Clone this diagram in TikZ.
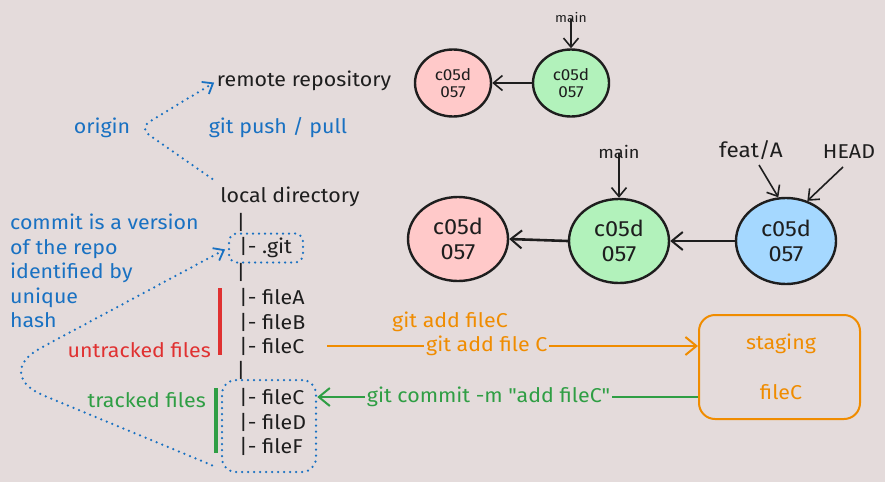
\documentclass[tikz,border=0pt]{standalone}
\usepackage{fontspec}
\setmainfont{Fira Sans}[FakeStretch=1.07, Ligatures=TeXOff]
\usetikzlibrary{arrows.meta,shapes.geometric,calc}
\definecolor{bg}{RGB}{228,219,219}
\definecolor{ink}{HTML}{1E1E1E}
\definecolor{eblue}{HTML}{1971C2}
\definecolor{ered}{HTML}{E03131}
\definecolor{egreen}{HTML}{2F9E44}
\definecolor{eorange}{HTML}{F08C00}
\definecolor{fpink}{HTML}{FFC9C9}
\definecolor{fgreen}{HTML}{B2F2BB}
\definecolor{fblue}{HTML}{A5D8FF}
\begin{document}
\begin{tikzpicture}[x=1pt,y=-1pt,
  txt/.style={font=\fontsize{20}{24}\selectfont, text=ink, inner sep=0pt},
  small/.style={font=\fontsize{16}{18}\selectfont, text=ink, inner sep=0pt},
  tiny/.style={font=\fontsize{13}{15}\selectfont, text=ink, inner sep=0pt},
  commit/.style={ellipse, draw=ink, line width=2.4pt, align=center, inner sep=0pt},
  barb/.style={-{Straight Barb[length=9pt,width=15pt,line width=1.6pt]}},
  arr/.style={barb, draw=ink, line width=1.6pt},
  bigarr/.style={-{Straight Barb[length=11pt,width=18pt,line width=2pt]}, draw=ink, line width=2.6pt},
  dots/.style={draw=eblue, line width=2.5pt, line cap=round, dash pattern=on 0pt off 6pt},
  dotbox/.style={dots, rounded corners=8pt, inner sep=0pt},
  flow/.style={line width=2pt, -{Straight Barb[length=11pt,width=18pt,line width=2pt]}},
  onlabel/.style={fill=bg, inner sep=2pt, font=\fontsize{20}{24}\selectfont}
]
\fill[bg] (0,0) rectangle (885,482);
\useasboundingbox (0,0) rectangle (885,482);

% ---- left tree ----
\node[txt] (remote) at (304,81) {remote repository};
\node[txt, text=eblue] (origin) at (102,128) {origin};
\node[txt, text=eblue] (push) at (278,128) {git push / pull};
\node[txt] (local) at (290,197) {local directory};
\node[txt] (bar1) at (241,222) {|};
\node[dotbox, minimum width=74pt, minimum height=29pt] (gitbox) at (266,248) {};
\node[txt, anchor=west] (git) at (239,248) {|- .git};
\node[txt] (bar2) at (241,272) {|};
\node[txt, anchor=west] (fileA) at (239,297) {|- fileA};
\node[txt, anchor=west] (fileB) at (239,322) {|- fileB};
\node[txt, anchor=west] (fileC) at (239,346) {|- fileC};
\node[txt] (bar3) at (241,370) {|};
\node[dotbox, rounded corners=14pt, minimum width=94pt, minimum height=92pt] (trackbox) at (269,426) {};
\node[txt, anchor=west] (fileCt) at (239,397) {|- fileC};
\node[txt, anchor=west] (fileD) at (239,422) {|- fileD};
\node[txt, anchor=west] (fileF) at (239,446) {|- fileF};

\coordinate (redtop) at (220,288);
\coordinate (redbot) at (220,355);
\draw[ered, line width=3.2pt] (redtop) -- (redbot);
\node[txt, text=ered, anchor=east] (untracked) at (211,350) {untracked files};
\coordinate (grtop) at (216,388);
\coordinate (grbot) at (216,453);
\draw[egreen, line width=3.2pt] (grtop) -- (grbot);
\node[txt, text=egreen, anchor=east] (tracked) at (206,400) {tracked files};

\node[txt, text=eblue, anchor=north west, align=left, font=\fontsize{20}{24.5}\selectfont] (commitnote) at (10,214)
  {commit is a version\\of the repo\\identified by\\unique\\hash};

% dotted connectors
\coordinate (ocorner) at (139,128);
\draw[dots, rounded corners=12pt, -{Straight Barb[length=9pt,width=14pt,line width=1.8pt]}, shorten >=3pt]
  ($(local.north west)+(-8,-8)$) -- (ocorner) -- (remote.west);
\coordinate (gcorner) at (-8,374);
\draw[dots, rounded corners=55pt, {Straight Barb[length=9pt,width=14pt,line width=1.8pt]}-, shorten <=3pt]
  (gitbox.west) -- (gcorner) -- ($(trackbox.south west)+(-4,-6)$);

% ---- commit graphs ----
\node[commit, fill=fpink, minimum width=76pt, minimum height=67pt, small] (p1) at (453,83) {c05d\\[-1pt]057};
\node[commit, fill=fgreen, minimum width=76pt, minimum height=67pt, small] (g1) at (571,83) {c05d\\[-1pt]057};
\node[tiny] (main1) at (571,18) {main};
\draw[arr, line width=1.4pt] (main1.south) ++(0,-4) -- (g1.north);
\draw[arr] (g1.west) -- (p1.east);

\node[commit, fill=fpink, minimum width=100pt, minimum height=84pt, txt, font=\fontsize{22}{25}\selectfont] (p2) at (458,239) {c05d\\057};
\node[commit, fill=fgreen, minimum width=100pt, minimum height=84pt, txt, font=\fontsize{22}{25}\selectfont] (g2) at (619,241) {c05d\\057};
\node[commit, fill=fblue, minimum width=100pt, minimum height=86pt, txt, font=\fontsize{22}{25}\selectfont] (b2) at (786,241) {c05d\\057};
\node[small, font=\fontsize{17}{19}\selectfont] (main2) at (619,152) {main};
\node[txt, font=\fontsize{21}{24}\selectfont] (feat) at (751,150) {feat/A};
\node[txt] (head) at (849,152) {HEAD};
\coordinate (featTail) at (759,165);
\coordinate (headTail) at (843,167);
\draw[arr] (main2.south) ++(0,-6) -- (g2.north);
\draw[arr] (featTail) -- (b2.100);
\draw[arr] (headTail) -- (b2.62);
\draw[bigarr] (g2.west) -- (p2.east);
\draw[bigarr] (b2.west) -- (g2.east);

% ---- staging ----
\node[draw=eorange, line width=2pt, rounded corners=16pt, minimum width=161pt, minimum height=104pt, inner sep=0pt] (staging) at (779.5,367) {};
\node[txt, text=eorange] (stagingtxt) at (781,344) {staging};
\node[txt, text=eorange] (stagedfile) at (781,392) {fileC};
\node[txt, text=eorange] (addnote) at (450,322) {git add fileC};

\draw[flow, eorange] ($(fileC.east)+(23,0)$) -- (staging.west |- fileC.east)
  node[onlabel, text=eorange, pos=0.43] {git add file C};
\draw[flow, egreen] (staging.west |- fileCt.east) -- (trackbox.east |- fileCt.east)
  node[onlabel, text=egreen, pos=0.55] {git commit -m "add fileC"};
\end{tikzpicture}
\end{document}
